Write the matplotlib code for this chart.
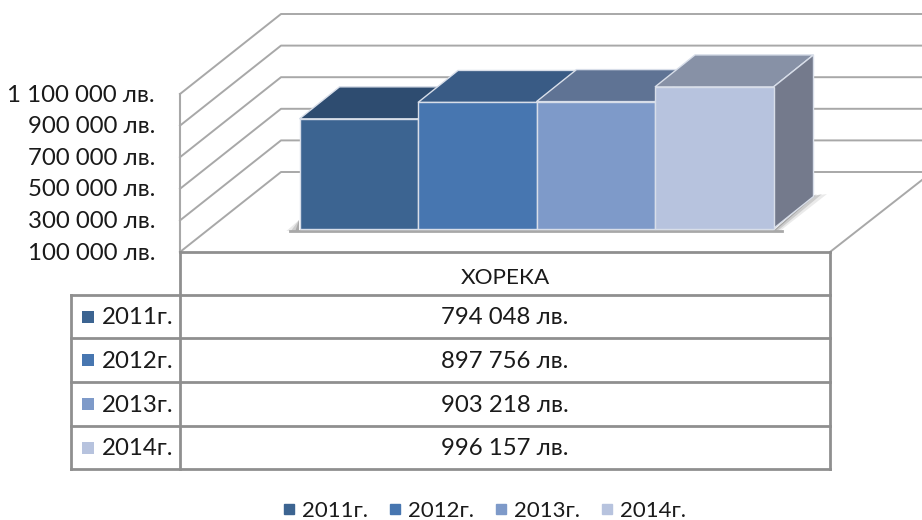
#!/usr/bin/env python3
import matplotlib.pyplot as plt
from matplotlib.lines import Line2D
from matplotlib.patches import Polygon

years = ['2011г.', '2012г.', '2013г.', '2014г.']
values = [794048, 897756, 903218, 996157]
value_labels = ['794 048 лв.', '897 756 лв.', '903 218 лв.', '996 157 лв.']
category = 'ХОРЕКА'
ticks = [100000, 300000, 500000, 700000, 900000, 1100000]
tick_labels = ['100 000 лв.', '300 000 лв.', '500 000 лв.', '700 000 лв.', '900 000 лв.', '1 100 000 лв.']

front_colors = ['#3c6491', '#4776b0', '#7e9ac9', '#b7c3de']
top_colors = ['#2e4c70', '#395b85', '#5f7394', '#8791a6']
side_colors = ['#2e4c70', '#395b85', '#5f7394', '#747a8c']

W, H = 922, 520
plt.rcParams['font.family'] = ['Lato', 'Open Sans', 'DejaVu Sans']
fig = plt.figure(figsize=(W / 100, H / 100), dpi=100)

# frame and table live in pixel coordinates
fr = fig.add_axes([0, 0, 1, 1])
fr.set_xlim(0, W)
fr.set_ylim(H, 0)
fr.axis('off')

grid = '#a8a8a8'
table = '#8f8f8f'
ink = '#1a1a1a'
wall_step = (252 - 94) / (len(ticks) - 1)
back_step = (172 - 14) / (len(ticks) - 1)
for i in range(len(ticks)):
    yf = 252 - i * wall_step
    yb = 172 - i * back_step
    fr.plot([180, 281, W], [yf, yb, yb], color=grid, lw=1.4, zorder=1)
    fr.text(155, yf + 1, tick_labels[i], ha='right', va='center', fontsize=17.3, color=ink)

fr.plot([180, 180], [94, 252], color=grid, lw=1.5, zorder=1)
fr.plot([180, 180], [252, 469], color=table, lw=2, zorder=1)
fr.plot([830, W], [252, 180], color=grid, lw=1.4, zorder=1)

rows = [295, 338, 382, 426, 469]
fr.plot([180, 830], [252, 252], color=table, lw=2)
fr.plot([830, 830], [252, 469], color=table, lw=2)
fr.plot([71, 71], [295, 469], color=table, lw=2)
for y in rows:
    fr.plot([71, 830], [y, y], color=table, lw=2)

fr.text(505, 278, category, ha='center', va='center', fontsize=16.2, color=ink)
for i, year in enumerate(years):
    yc = (rows[i] + rows[i + 1]) / 2 + 1
    fr.scatter([88], [yc - 1], marker='s', s=85, color=front_colors[i], linewidths=0)
    fr.text(102, yc, year, ha='left', va='center', fontsize=17.3, color=ink)
    fr.text(505, yc, value_labels[i], ha='center', va='center', fontsize=17.3, color=ink)

# bar shadow on the floor
for grow, alpha in [(14, 0.12), (9, 0.2), (4, 0.3)]:
    fr.add_patch(Polygon([(773, 231), (813, 196), (813 + grow, 194), (773 + grow / 2, 231)],
                         color='#555555', alpha=alpha, lw=0, zorder=2))
    fr.add_patch(Polygon([(299, 231), (299, 220), (299 - grow * 0.9, 231)],
                         color='#555555', alpha=alpha, lw=0, zorder=2))
fr.plot([290, 782], [231, 231], color='#a8a8a8', lw=2, zorder=2)

# bars on a value axis laid over the same figure
ax = fig.add_axes([0, 0, 1, 1], facecolor='none')
px_x = 118.5                # pixels per bar
px_y = 0.158 / 1000         # pixels per lev
x0 = 299.5
y0 = 228.5
ax.set_xlim(-x0 / px_x, (W - x0) / px_x)
ax.set_ylim(100000 - (H - y0) / px_y, 100000 + y0 / px_y)
ax.axis('off')

dx = 40 / px_x
dy = 32 / px_y
edge = '#d8dee9'
for i, v in enumerate(values):
    left, right = i, i + 1
    ax.add_patch(Polygon([(left, v), (right, v), (right + dx, v + dy), (left + dx, v + dy)],
                         facecolor=top_colors[i], edgecolor=edge, lw=1, zorder=3 + i))
    ax.add_patch(Polygon([(right, 100000), (right + dx, 100000 + dy), (right + dx, v + dy), (right, v)],
                         facecolor=side_colors[i], edgecolor=edge, lw=1, zorder=3 + i))
    ax.bar(left, v - 100000, width=1, bottom=100000, align='edge', color=front_colors[i],
           edgecolor=edge, linewidth=1, zorder=3 + i)

handles = [Line2D([0], [0], marker='s', ls='none', ms=7.5, color=c, label=y)
           for c, y in zip(front_colors, years)]
fig.legend(handles=handles, ncol=4, frameon=False, loc='center', bbox_to_anchor=(483 / W, 1 - 511 / H),
           fontsize=16, handlelength=0.8, handletextpad=0.2, columnspacing=0.8, labelcolor=ink)

plt.savefig('out.png', dpi=100)
